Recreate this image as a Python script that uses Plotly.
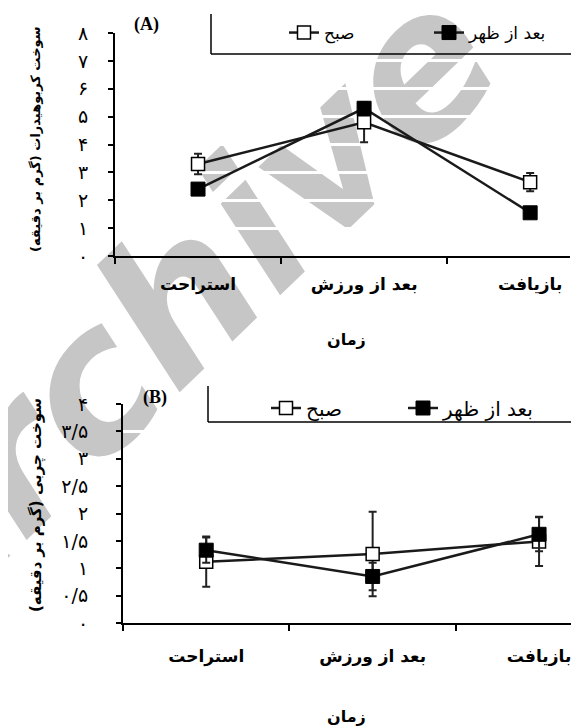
import plotly.graph_objects as go

W, H = 579, 727
OFF = 8  # page body margin offset

# ---------------- data ----------------
categories = ["استراحت", "بعد از ورزش", "بازیافت"]
series_names = ["صبح", "بعد از ظهر"]

# Panel A: carbohydrate oxidation (g/min)
a_morning = [3.3, 4.8, 2.65]
a_morning_err = [0.37, 0.72, 0.33]
a_afternoon = [2.4, 5.3, 1.55]
a_afternoon_err = [0.1, 0.1, 0.08]

# Panel B: fat oxidation (g/min)
b_morning = [1.12, 1.26, 1.49]
b_morning_err = [0.46, 0.77, 0.45]
b_afternoon = [1.33, 0.85, 1.62]
b_afternoon_err = [0.23, 0.25, 0.31]

a_tickvals = [0, 1, 2, 3, 4, 5, 6, 7, 8]
a_ticktext = ["٠", "١", "٢", "٣", "۴", "۵", "۶", "٧", "٨"]
b_tickvals = [0, 0.5, 1, 1.5, 2, 2.5, 3, 3.5, 4]
b_ticktext = ["٠", "٠/۵", "١", "١/۵", "٢", "٢/۵", "٣", "٣/۵", "۴"]

a_ytitle = "سوخت کربوهیدرات (گرم بر دقیقه)"
b_ytitle = "سوخت چربی (گرم بر دقیقه)"
xtitle = "زمان"
watermark = "Archive of SID"

FONT = "DejaVu Sans"
LINE = "#1a1a1a"


def px(x):
    return (x - OFF) / W


def py(y):
    return 1 - (y - OFF) / H


fig = go.Figure()


def add_series(xa, ya, legend, morning, morning_err, afternoon, afternoon_err, msize):
    fig.add_trace(go.Scatter(
        x=categories, y=morning, name=series_names[0], xaxis=xa, yaxis=ya,
        legend=legend, mode="lines+markers",
        line=dict(color=LINE, width=2.5),
        marker=dict(symbol="square", size=msize, color="white",
                    line=dict(color="black", width=1.5)),
        error_y=dict(type="data", array=morning_err, color="#222",
                     thickness=2, width=4),
    ))
    fig.add_trace(go.Scatter(
        x=categories, y=afternoon, name=series_names[1], xaxis=xa, yaxis=ya,
        legend=legend, mode="lines+markers",
        line=dict(color=LINE, width=2.5),
        marker=dict(symbol="square", size=msize + 1, color="black",
                    line=dict(color="black", width=1)),
        error_y=dict(type="data", array=afternoon_err, color="#222",
                     thickness=2, width=4),
    ))


add_series("x", "y", "legend", a_morning, a_morning_err, a_afternoon, a_afternoon_err, 13)
add_series("x2", "y2", "legend2", b_morning, b_morning_err, b_afternoon, b_afternoon_err, 13)

xcommon = dict(
    type="category", tickson="boundaries", ticks="outside", ticklen=6,
    tickwidth=2, tickcolor="black", showline=True, linecolor="black",
    linewidth=2, showgrid=False, zeroline=False, fixedrange=True,
    tickfont=dict(family=FONT, size=17, color="black", weight="bold"),
    range=[-0.5, 2.24],
)
ycommon = dict(
    ticks="outside", ticklen=5, tickwidth=2, tickcolor="black",
    showline=True, linecolor="black", linewidth=2,
    showgrid=True, gridcolor="white", gridwidth=3,
    zeroline=False, tickmode="array",
    tickfont=dict(family=FONT, size=19, color="black"),
)

fig.update_layout(
    width=W, height=H,
    margin=dict(l=0, r=0, t=0, b=0, autoexpand=False),
    paper_bgcolor="white", plot_bgcolor="rgba(0,0,0,0)",
    showlegend=True,
    xaxis=dict(xcommon, domain=[px(115), px(570)], anchor="y",
               ticklabelstandoff=12),
    yaxis=dict(ycommon, domain=[py(256), py(33)], anchor="x",
               range=[0, 8], tickvals=a_tickvals, ticktext=a_ticktext,
               ticklabelstandoff=16),
    xaxis2=dict(xcommon, domain=[px(123), px(579)], anchor="y2",
                ticklabelstandoff=17),
    yaxis2=dict(ycommon, domain=[py(623), py(404)], anchor="x2",
                range=[0, 4], tickvals=b_tickvals, ticktext=b_ticktext,
                ticklabelstandoff=24),
    legend=dict(
        orientation="h", x=px(284), y=py(33), xanchor="left", yanchor="middle",
        font=dict(family=FONT, size=17, color="black"),
        bgcolor="rgba(0,0,0,0)", entrywidth=100, traceorder="normal",
        itemclick=False, itemdoubleclick=False,
    ),
    legend2=dict(
        orientation="h", x=px(266), y=py(408), xanchor="left", yanchor="middle",
        font=dict(family=FONT, size=20, color="black"),
        bgcolor="rgba(0,0,0,0)", entrywidth=92, traceorder="normal",
        itemclick=False, itemdoubleclick=False,
    ),
)

# faint watermark behind the chart
fig.add_shape(type="line", xref="paper", yref="paper", layer="below",
              x0=px(411), y0=py(55), x1=px(427), y1=py(39),
              line=dict(color="rgba(0,0,0,0)", width=0),
              label=dict(text=watermark, textangle=-44, textposition="middle",
                         xanchor="center", yanchor="middle",
                         font=dict(family="DejaVu Sans", size=196,
                                   color="#c6c6c6", weight="bold", style="italic")))

# legend frames (left & bottom edges)
for (lx, ty, by) in [(211, 14, 54), (208, 386, 422)]:
    fig.add_shape(type="line", xref="paper", yref="paper",
                  x0=px(lx), x1=px(lx), y0=py(ty), y1=py(by),
                  line=dict(color="black", width=1.5))
    fig.add_shape(type="line", xref="paper", yref="paper",
                  x0=px(lx), x1=px(590), y0=py(by), y1=py(by),
                  line=dict(color="black", width=1.5))


def note(text, x, y, size, family=FONT, angle=0):
    return dict(text=text, x=px(x), y=py(y), xref="paper", yref="paper",
                xanchor="center", yanchor="middle", showarrow=False,
                textangle=angle, font=dict(family=family, size=size, color="black"))


ann = [
    note("<b>(A)</b>", 146, 25, 18, "Liberation Serif"),
    note("<b>(B)</b>", 155, 397, 18, "Liberation Serif"),
    note("<b>" + a_ytitle + "</b>", 36, 140, 13, angle=-90),
    note("<b>" + b_ytitle + "</b>", 37, 505, 15, angle=-90),
    note("<b>" + xtitle + "</b>", 346, 340, 16),
    note("<b>" + xtitle + "</b>", 346, 716, 16),
]
fig.update_layout(annotations=ann)

fig.write_html("out.html")
